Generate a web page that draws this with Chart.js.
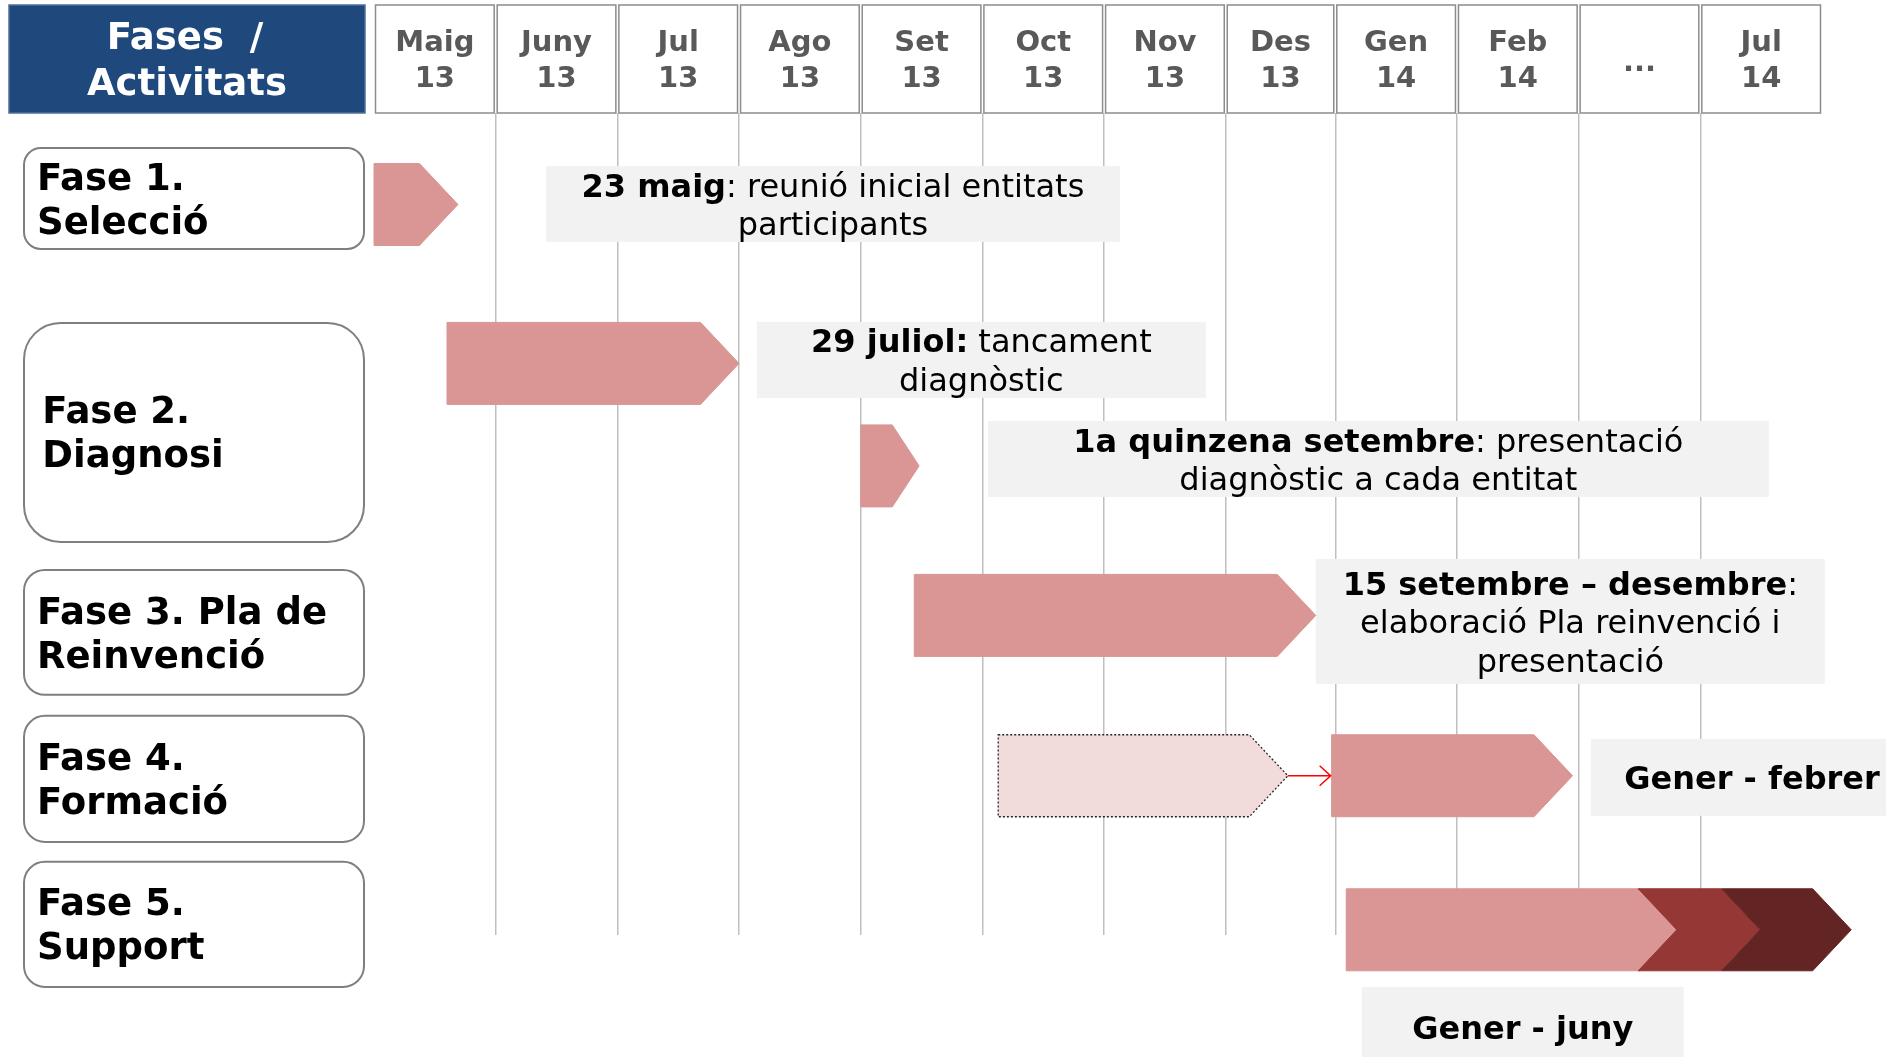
<!DOCTYPE html>
<html>
<head>
<meta charset="utf-8">
<script src="https://cdn.jsdelivr.net/npm/chart.js@4.4.1/dist/chart.umd.min.js"></script>
<style>
  html, body { margin: 0; padding: 0; background: #fff; }
  #wrap { width: 1886px; height: 1057px; }
</style>
</head>
<body>
<div id="wrap"><canvas id="gantt" width="1886" height="1057"></canvas></div>
<script>
// timeline columns (x axis is counted in months from May 2013)
const months = ['Maig', 'Juny', 'Jul', 'Ago', 'Set', 'Oct', 'Nov', 'Des', 'Gen', 'Feb', '...', 'Jul'];
const years = ['13', '13', '13', '13', '13', '13', '13', '13', '14', '14', '', '14'];
const monthSpan = [1, 1, 1, 1, 1, 1, 1, 0.9, 1, 1, 1, 1];

// phases (rows, y axis counted in lanes)
const phaseLabels = [['Fase 1.', 'Selecció'], ['Fase 2.', 'Diagnosi'], ['Fase 3. Pla de', 'Reinvenció'], ['Fase 4.', 'Formació'], ['Fase 5.', 'Support']];
const phaseFrom = [-0.358, 0.751, 2.318, 3.243, 4.169];
const phaseTo = [0.282, 2.14, 3.11, 4.043, 4.962];

// activities
const taskLane = [0, 1.008, 1.658, 2.606, 3.623, 3.623, 4.6, 4.6, 4.6];
const taskStart = [0, 0.6, 4.0, 4.44, 5.13, 7.87, 7.99, 10.39, 11.075];
const taskEnd = [0.69, 3.0, 4.48, 7.74, 7.51, 9.85, 10.72, 11.39, 12.14];
const taskKind = ['arrow', 'arrow', 'arrow', 'arrow', 'planned', 'arrow', 'arrow', 'chevron', 'chevron'];
const taskTone = [0, 0, 0, 0, 0, 0, 0, 1, 2];

// notes
const noteText = [
  ['**23 maig**: reunió inicial entitats', 'participants'],
  ['**29 juliol:** tancament', 'diagnòstic'],
  ['**1a quinzena setembre**: presentació', 'diagnòstic a cada entitat'],
  ['**15 setembre – desembre**:', 'elaboració Pla reinvenció i', 'presentació'],
  ['**Gener - febrer**'],
  ['**Gener - juny**']
];
const noteFromX = [1.413, 3.147, 5.045, 7.74, 10.0, 8.118];
const noteToX = [6.13, 6.836, 11.463, 11.923, 12.65, 10.764];
const noteFromY = [-0.244, 0.745, 1.373, 2.248, 3.389, 4.962];
const noteToY = [0.238, 1.227, 1.855, 3.041, 3.877, 5.47];

const FONT = '"DejaVu Sans", Verdana, sans-serif';
const PINK = '#D99694';
const tones = [PINK, '#953735', '#632523'];
const DY = 3.5; // baseline nudge so text sits like the original

const gridEdges = [];
let acc = 0;
monthSpan.forEach((w, i) => { acc += w; if (i < monthSpan.length - 1) gridEdges.push(acc); });
const totalMonths = acc;

function rounded(ctx, x, y, w, h, r) {
  ctx.beginPath();
  ctx.moveTo(x + r, y);
  ctx.arcTo(x + w, y, x + w, y + h, r);
  ctx.arcTo(x + w, y + h, x, y + h, r);
  ctx.arcTo(x, y + h, x, y, r);
  ctx.arcTo(x, y, x + w, y, r);
  ctx.closePath();
}

function richLine(ctx, str, cx, cy, size) {
  const parts = str.split('**').map((t, i) => ({ t, bold: i % 2 === 1 })).filter(p => p.t);
  let total = 0;
  parts.forEach(p => {
    ctx.font = (p.bold ? 'bold ' : '') + size + 'px ' + FONT;
    p.w = ctx.measureText(p.t).width;
    total += p.w;
  });
  let x = cx - total / 2;
  ctx.textAlign = 'left';
  ctx.textBaseline = 'middle';
  parts.forEach(p => {
    ctx.font = (p.bold ? 'bold ' : '') + size + 'px ' + FONT;
    ctx.fillText(p.t, x, cy + DY);
    x += p.w;
  });
}

const ganttDecor = {
  id: 'ganttDecor',
  afterDatasetsDraw(chart) {
    const ctx = chart.ctx;
    const xs = chart.scales.x, ys = chart.scales.y;
    const area = chart.chartArea;
    ctx.save();

    // title cell
    ctx.fillStyle = '#1F497D';
    ctx.fillRect(9, 5, area.left - 18, area.top - 5);
    ctx.strokeStyle = '#4F6F9A';
    ctx.lineWidth = 1.5;
    ctx.strokeRect(9, 5, area.left - 18, area.top - 5);
    ctx.fillStyle = '#fff';
    ctx.font = 'bold 37px ' + FONT;
    ctx.textAlign = 'center';
    ctx.textBaseline = 'middle';
    const hc = (5 + area.top) / 2;
    ctx.fillText('Fases  /', area.left / 2 - 2, hc - 23 + DY);
    ctx.fillText('Activitats', area.left / 2, hc + 23 + DY);

    // month cells
    let edge = 0;
    months.forEach((m, i) => {
      const l = xs.getPixelForValue(edge) + 1.5;
      const r = xs.getPixelForValue(edge + monthSpan[i]) - 1.5;
      edge += monthSpan[i];
      ctx.fillStyle = '#fff';
      ctx.fillRect(l, 5, r - l, area.top - 5);
      ctx.strokeStyle = '#8C8C8C';
      ctx.lineWidth = 1.5;
      ctx.strokeRect(l, 5, r - l, area.top - 5);
      ctx.fillStyle = '#595959';
      ctx.font = 'bold 29px ' + FONT;
      ctx.textAlign = 'center';
      if (years[i]) {
        ctx.textBaseline = 'middle';
        ctx.fillText(m, (l + r) / 2, hc - 19 + DY);
        ctx.fillText(years[i], (l + r) / 2, hc + 17 + DY);
      } else {
        ctx.textBaseline = 'alphabetic';
        ctx.fillText(m, (l + r) / 2, hc + 12);
      }
    });

    // phase cells
    phaseLabels.forEach((lines, i) => {
      const top = ys.getPixelForValue(phaseFrom[i]);
      const bot = ys.getPixelForValue(phaseTo[i]);
      const left = 24, w = area.left - 10 - left, h = bot - top;
      const rad = 0.167 * Math.min(w, h);
      rounded(ctx, left, top, w, h, rad);
      ctx.fillStyle = '#fff';
      ctx.fill();
      ctx.strokeStyle = '#7F7F7F';
      ctx.lineWidth = 2;
      ctx.stroke();
      ctx.fillStyle = '#000';
      ctx.font = 'bold 37px ' + FONT;
      ctx.textAlign = 'left';
      ctx.textBaseline = 'middle';
      const pad = Math.max(13, rad * 0.5);
      const mid = (top + bot) / 2;
      ctx.fillText(lines[0], left + pad, mid - 22 + DY);
      ctx.fillText(lines[1], left + pad, mid + 22 + DY);
    });

    // notes
    noteText.forEach((lines, i) => {
      const l = xs.getPixelForValue(noteFromX[i]);
      const r = xs.getPixelForValue(noteToX[i]);
      const t = ys.getPixelForValue(noteFromY[i]);
      const b = ys.getPixelForValue(noteToY[i]);
      ctx.fillStyle = '#F2F2F2';
      ctx.fillRect(l, t, r - l, b - t);
      ctx.fillStyle = '#000';
      const lh = 38.5;
      const y0 = (t + b) / 2 - (lines.length - 1) * lh / 2;
      lines.forEach((s, k) => richLine(ctx, s, (l + r) / 2, y0 + k * lh, 32));
    });

    // activity arrows
    const bars = chart.getDatasetMeta(0).data;
    bars.forEach((bar, i) => {
      const { x: tip, base, y, height } = bar.getProps(['x', 'base', 'y', 'height'], true);
      const h2 = height / 2;
      const d = Math.min(0.47 * height, (tip - base) * 0.46);
      ctx.beginPath();
      ctx.moveTo(base, y - h2);
      ctx.lineTo(tip - d, y - h2);
      ctx.lineTo(tip, y);
      ctx.lineTo(tip - d, y + h2);
      ctx.lineTo(base, y + h2);
      if (taskKind[i] === 'chevron') ctx.lineTo(base + d, y);
      ctx.closePath();
      if (taskKind[i] === 'planned') {
        ctx.fillStyle = '#F2DCDB';
        ctx.fill();
        ctx.setLineDash([2, 2]);
        ctx.strokeStyle = '#262626';
        ctx.lineWidth = 1.3;
        ctx.stroke();
        ctx.setLineDash([]);
      } else {
        ctx.fillStyle = tones[taskTone[i]];
        ctx.fill();
        ctx.strokeStyle = tones[taskTone[i]];
        ctx.lineWidth = 1;
        ctx.stroke();
      }
    });

    // link from planned training to actual training
    const from = bars[4].getProps(['x', 'y'], true);
    const to = bars[5].getProps(['base'], true);
    ctx.strokeStyle = '#FF0000';
    ctx.lineWidth = 1.5;
    ctx.beginPath();
    ctx.moveTo(from.x, from.y);
    ctx.lineTo(to.base - 1, from.y);
    ctx.moveTo(to.base - 12, from.y - 10);
    ctx.lineTo(to.base - 1, from.y);
    ctx.lineTo(to.base - 12, from.y + 10);
    ctx.stroke();

    ctx.restore();
  }
};

new Chart(document.getElementById('gantt'), {
  type: 'bar',
  data: {
    datasets: [{
      data: taskStart.map((s, i) => ({ x: [s, taskEnd[i]], y: taskLane[i] })),
      backgroundColor: 'rgba(0,0,0,0)',
      borderWidth: 0,
      barThickness: 82
    }]
  },
  options: {
    indexAxis: 'y',
    responsive: false,
    devicePixelRatio: 1,
    animation: false,
    layout: { padding: { left: 374, right: 64, top: 113, bottom: 122 } },
    scales: {
      x: {
        type: 'linear',
        min: 0,
        max: totalMonths,
        afterBuildTicks: (scale) => { scale.ticks = gridEdges.map(v => ({ value: v })); },
        ticks: { display: false },
        grid: { color: '#BFBFBF', lineWidth: 1.5, drawTicks: false },
        border: { display: false }
      },
      y: {
        type: 'linear',
        display: false,
        offset: false,
        grace: 0,
        reverse: true,
        min: -0.58,
        max: 4.633
      }
    },
    plugins: {
      legend: { display: false },
      tooltip: { enabled: false }
    }
  },
  plugins: [ganttDecor]
});
</script>
</body>
</html>
